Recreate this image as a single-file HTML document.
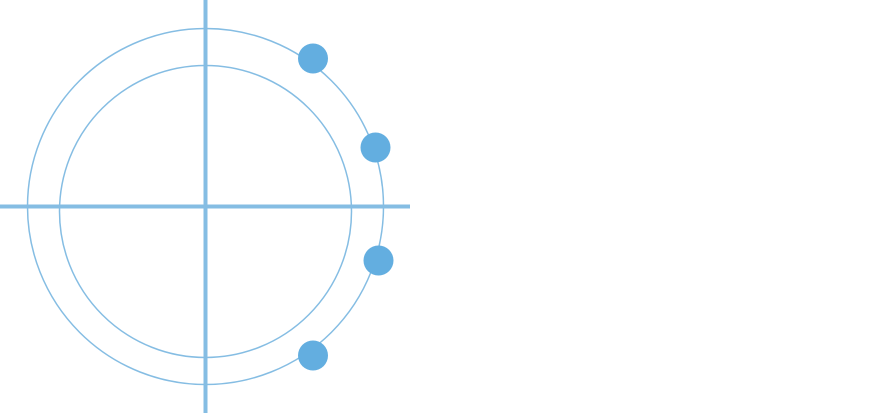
<!DOCTYPE html>
<html><head><meta charset="utf-8"><style>html,body{margin:0;padding:0;background:#fff;}svg{display:block}</style></head>
<body>
<svg width="880" height="413" viewBox="0 0 880 413" xmlns="http://www.w3.org/2000/svg">
<circle cx="205.5" cy="206.5" r="178" fill="none" stroke="#85bde3" stroke-width="1.5"/>
<circle cx="205.5" cy="211.5" r="146" fill="none" stroke="#85bde3" stroke-width="1.5"/>
<line x1="205.5" y1="0" x2="205.5" y2="413" stroke="#85bde3" stroke-width="4"/>
<line x1="0" y1="206.5" x2="410" y2="206.5" stroke="#85bde3" stroke-width="4"/>
<g fill="#63aee0">
<circle cx="313" cy="58.5" r="15"/>
<circle cx="375.5" cy="147.5" r="15"/>
<circle cx="378.5" cy="260.5" r="15"/>
<circle cx="313" cy="355.5" r="15"/>
</g>
</svg>
</body></html>
